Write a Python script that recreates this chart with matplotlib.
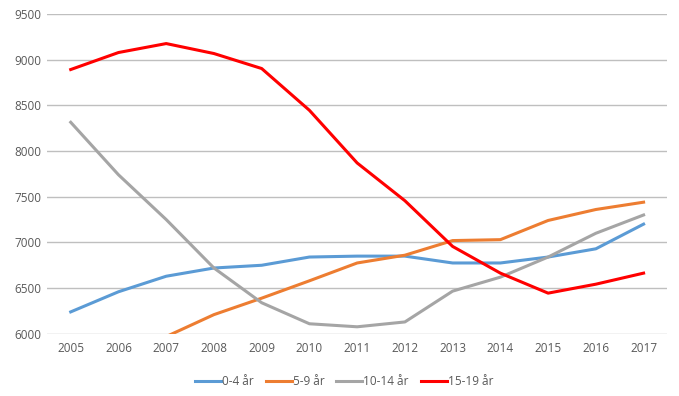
import matplotlib
matplotlib.use("Agg")
import matplotlib.pyplot as plt

years = [2005, 2006, 2007, 2008, 2009, 2010, 2011, 2012, 2013, 2014, 2015, 2016, 2017]
s_0_4 = [6240, 6460, 6630, 6720, 6750, 6840, 6850, 6850, 6775, 6775, 6840, 6930, 7200]
s_5_9 = [5550, 5760, 5970, 6210, 6390, 6580, 6775, 6860, 7020, 7030, 7240, 7360, 7440]
s_10_14 = [8314, 7740, 7250, 6720, 6340, 6110, 6077, 6130, 6467, 6620, 6840, 7100, 7300]
s_15_19 = [8891, 9077, 9175, 9066, 8902, 8445, 7869, 7456, 6956, 6664, 6445, 6543, 6664]
labels = ["0-4 år", "5-9 år", "10-14 år", "15-19 år"]
colors = ["#5B9BD5", "#ED7D31", "#A5A5A5", "#FF0000"]

plt.rcParams['font.family'] = ['Open Sans', 'DejaVu Sans']
fig = plt.figure(figsize=(6.79, 3.96), dpi=100)
ax = fig.add_axes([0.069, 0.157, 0.914, 0.808])
for s, lab, c in zip([s_0_4, s_5_9, s_10_14, s_15_19], labels, colors):
    ax.plot(years, s, color=c, lw=2.2, label=lab, solid_joinstyle='round')
ax.set_ylim(6000, 9500)
ax.set_xlim(2004.5, 2017.5)
ax.set_yticks(range(6000, 9501, 500))
ax.set_xticks(years)
ax.grid(axis='y', color='#BFBFBF', lw=1)
ax.set_axisbelow(True)
for sp in ax.spines.values():
    sp.set_visible(False)
ax.tick_params(length=0, labelsize=8.5, colors='#595959', pad=6)
ax.tick_params(axis='y', pad=4)
leg = ax.legend(loc='upper center', bbox_to_anchor=(0.479, -0.095), ncol=4, frameon=False,
                fontsize=8.5, handlelength=2.2, columnspacing=1.0, handletextpad=0.1)
for t in leg.get_texts():
    t.set_color('#595959')
fig.savefig("out.png", dpi=100)
